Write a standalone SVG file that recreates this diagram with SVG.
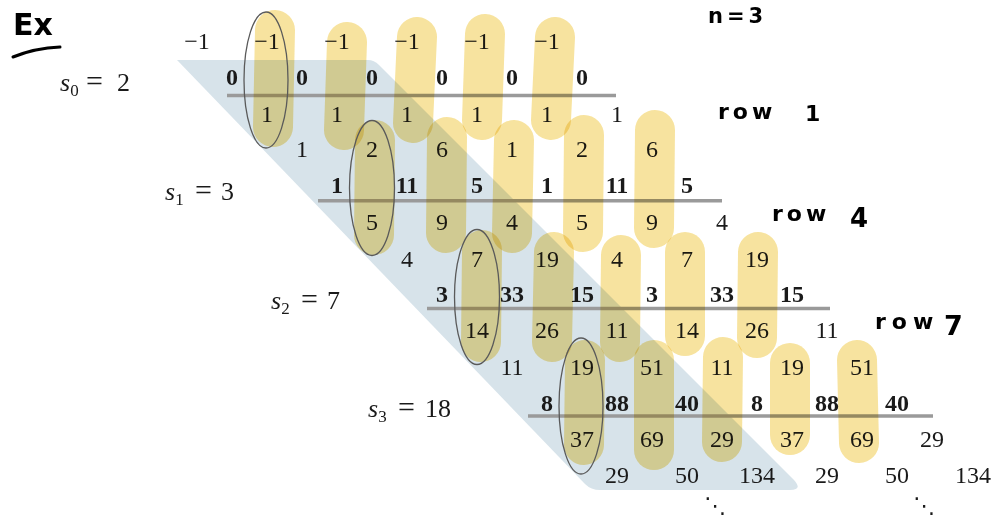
<svg xmlns="http://www.w3.org/2000/svg" width="996" height="518" viewBox="0 0 996 518">
<style>
.n{font-family:"Liberation Serif","DejaVu Serif",serif;font-size:24px;fill:#1a1a1a;text-anchor:middle}
.b{font-weight:bold}
.s{font-family:"Liberation Serif","DejaVu Serif",serif;font-size:26px;fill:#1a1a1a}
.hw{font-family:"DejaVu Sans",sans-serif;font-weight:bold;fill:#000}
.rule{stroke:#9a9a9a;stroke-width:3.5;fill:none}
.hl{fill:none;stroke:#f7e197;stroke-width:40;stroke-linecap:round;mix-blend-mode:multiply;opacity:0.92}
.ell{fill:none;stroke:#5a5a5a;stroke-width:1.3}
</style>
<rect width="996" height="518" fill="#fff"/>
<g id="shade">
<path d="M177,60 L368,60 Q374,60 379,65 L794,480 Q803,490 790,490 L600,490 Q591,490 585,484 Z" fill="#d7e3ea"/>
</g>
<g id="rules">
<line class="rule" x1="227" y1="95.5" x2="616" y2="95.5"/>
<line class="rule" x1="318" y1="200.7" x2="722" y2="200.7"/>
<line class="rule" x1="427" y1="308.5" x2="830" y2="308.5"/>
<line class="rule" x1="528" y1="416" x2="933" y2="416"/>
</g>
<g id="block-0" class="n">
<text x="197" y="49">−1</text><text x="267" y="49">−1</text><text x="337" y="49">−1</text><text x="407" y="49">−1</text><text x="477" y="49">−1</text><text x="547" y="49">−1</text>
<g class="b"><text x="232" y="85">0</text><text x="302" y="85">0</text><text x="372" y="85">0</text><text x="442" y="85">0</text><text x="512" y="85">0</text><text x="582" y="85">0</text></g>
<text x="267" y="122">1</text><text x="337" y="122">1</text><text x="407" y="122">1</text><text x="477" y="122">1</text><text x="547" y="122">1</text><text x="617" y="122">1</text>
</g>
<g id="block-1" class="n">
<text x="302" y="157">1</text><text x="372" y="157">2</text><text x="442" y="157">6</text><text x="512" y="157">1</text><text x="582" y="157">2</text><text x="652" y="157">6</text>
<g class="b"><text x="337" y="193">1</text><text x="407" y="193">11</text><text x="477" y="193">5</text><text x="547" y="193">1</text><text x="617" y="193">11</text><text x="687" y="193">5</text></g>
<text x="372" y="230">5</text><text x="442" y="230">9</text><text x="512" y="230">4</text><text x="582" y="230">5</text><text x="652" y="230">9</text><text x="722" y="230">4</text>
</g>
<g id="block-2" class="n">
<text x="407" y="267">4</text><text x="477" y="267">7</text><text x="547" y="267">19</text><text x="617" y="267">4</text><text x="687" y="267">7</text><text x="757" y="267">19</text>
<g class="b"><text x="442" y="302">3</text><text x="512" y="302">33</text><text x="582" y="302">15</text><text x="652" y="302">3</text><text x="722" y="302">33</text><text x="792" y="302">15</text></g>
<text x="477" y="338">14</text><text x="547" y="338">26</text><text x="617" y="338">11</text><text x="687" y="338">14</text><text x="757" y="338">26</text><text x="827" y="338">11</text>
</g>
<g id="block-3" class="n">
<text x="512" y="375">11</text><text x="582" y="375">19</text><text x="652" y="375">51</text><text x="722" y="375">11</text><text x="792" y="375">19</text><text x="862" y="375">51</text>
<g class="b"><text x="547" y="411">8</text><text x="617" y="411">88</text><text x="687" y="411">40</text><text x="757" y="411">8</text><text x="827" y="411">88</text><text x="897" y="411">40</text></g>
<text x="582" y="447">37</text><text x="652" y="447">69</text><text x="722" y="447">29</text><text x="792" y="447">37</text><text x="862" y="447">69</text><text x="932" y="447">29</text>
</g>
<g id="final-row" class="n">
<text x="617" y="483">29</text><text x="687" y="483">50</text><text x="757" y="483">134</text><text x="827" y="483">29</text><text x="897" y="483">50</text><text x="973" y="483">134</text>
</g>
<g id="highlights">
<path class="hl" d="M275,30 L273,127"/>
<path class="hl" d="M347,42 L344,130"/>
<path class="hl" d="M417,37 L413,123"/>
<path class="hl" d="M485,34 L482,120"/>
<path class="hl" d="M555,37 L551,120"/>
<path class="hl" d="M375,140 L374,235"/>
<path class="hl" d="M447,137 L446,233"/>
<path class="hl" d="M514,140 L512,233"/>
<path class="hl" d="M584,135 L583,232"/>
<path class="hl" d="M655,130 L654,228"/>
<path class="hl" d="M482,250 L481,342"/>
<path class="hl" d="M554,252 L552,342"/>
<path class="hl" d="M621,255 L620,342"/>
<path class="hl" d="M685,252 L685,336"/>
<path class="hl" d="M758,252 L757,338"/>
<path class="hl" d="M585,360 L584,445"/>
<path class="hl" d="M654,360 L654,450"/>
<path class="hl" d="M723,357 L722,442"/>
<path class="hl" d="M790,363 L790,435"/>
<path class="hl" d="M857,360 L859,443"/>
</g>
<g id="ellipses">
<ellipse class="ell" cx="266" cy="80" rx="22" ry="68"/>
<ellipse class="ell" cx="372" cy="188" rx="22.5" ry="67.5"/>
<ellipse class="ell" cx="477" cy="297" rx="22.5" ry="67.5"/>
<ellipse class="ell" cx="581" cy="406" rx="22" ry="68"/>
</g>
<g id="s-labels" class="s">
<text x="60" y="91"><tspan font-style="italic">s</tspan><tspan dy="5" font-size="17">0</tspan><tspan x="86" dy="-5" font-size="30">=</tspan><tspan x="117">2</tspan></text>
<text x="165" y="200"><tspan font-style="italic">s</tspan><tspan dy="5" font-size="17">1</tspan><tspan x="195" dy="-5" font-size="30">=</tspan><tspan x="221">3</tspan></text>
<text x="271" y="309"><tspan font-style="italic">s</tspan><tspan dy="5" font-size="17">2</tspan><tspan x="301" dy="-5" font-size="30">=</tspan><tspan x="327">7</tspan></text>
<text x="368" y="417"><tspan font-style="italic">s</tspan><tspan dy="5" font-size="17">3</tspan><tspan x="398" dy="-5" font-size="30">=</tspan><tspan x="425">18</tspan></text>
</g>
<g id="handwriting">
<text class="hw" x="13" y="35" font-size="30">Ex</text>
<path d="M13,57 Q35,48 60,47" fill="none" stroke="#000" stroke-width="3" stroke-linecap="round"/>
<text class="hw" x="708" y="23" font-size="21" letter-spacing="4">n=3</text>
<text class="hw" x="718" y="119" font-size="22" letter-spacing="4">row</text>
<text class="hw" x="805" y="121" font-size="22">1</text>
<text class="hw" x="772" y="221" font-size="22" letter-spacing="4">row</text>
<text class="hw" x="850" y="227" font-size="26">4</text>
<text class="hw" x="875" y="329" font-size="22" letter-spacing="6">row</text>
<text class="hw" x="944" y="335" font-size="27">7</text>
</g>
<g id="dots" class="n">
<text x="715" y="513" font-family="DejaVu Sans" font-size="22">⋱</text>
<text x="924" y="513" font-family="DejaVu Sans" font-size="22">⋱</text>
</g>
</svg>
